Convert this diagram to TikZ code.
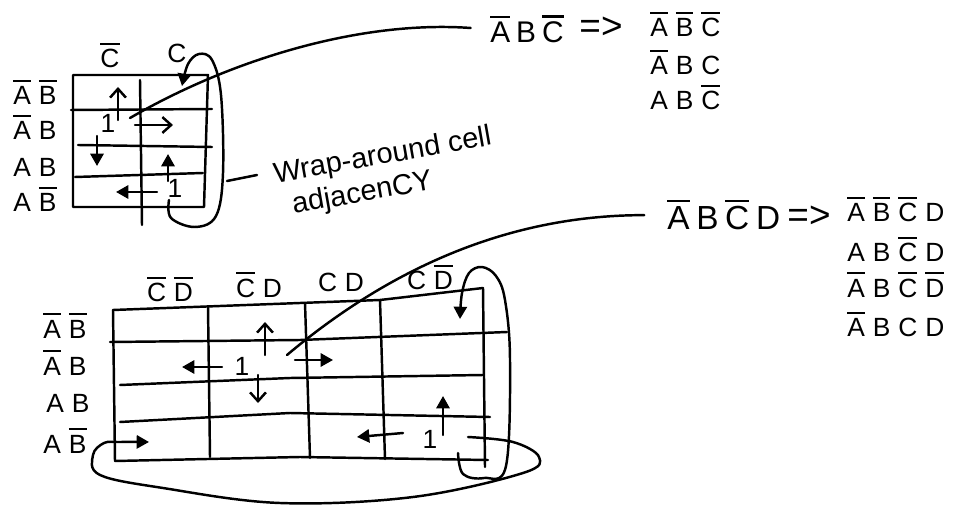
\documentclass[tikz,border=0pt]{standalone}
\usepackage{fontspec}
\setmainfont{Liberation Sans}
\usetikzlibrary{arrows.meta}

% letter with a bar over it (complemented variable)
\newcommand\ov[1]{{\setbox0\hbox{#1}\rlap{\raisebox{\dimexpr\ht0+2.6pt\relax}{\rule{\wd0}{1.2pt}}}\box0}}
% gap between the letters of a product term
\newcommand\gap{\hspace{0.3em}}

\tikzset{
  ink/.style={line width=1.4pt, line cap=round, line join=round},
  lbl/.style={font=\fontsize{15}{17}\selectfont, inner sep=0pt, anchor=base},
  lblw/.style={lbl, anchor=base west},
  big/.style={font=\fontsize{17}{19}\selectfont, inner sep=0pt, anchor=base west},
  imp/.style={font=\fontsize{21}{23}\selectfont, inner sep=0pt},
  note/.style={font=\fontsize{16.5}{19}\selectfont, inner sep=0pt, align=left, anchor=base west},
  stick/.style={ink, -{Straight Barb[length=5pt,width=9pt]}},
  solid/.style={ink, -{Triangle[length=7pt,width=7.5pt]}},
}

\begin{document}
\begin{tikzpicture}[x=0.02cm, y=-0.02cm]
\useasboundingbox (0,0) rectangle (956,506);

% ---------- three-variable map ----------
\draw[ink] (73,75) -- (208,75) -- (204,207) -- (73,207) -- cycle;
\draw[ink] (71,110) -- (212,109);
\draw[ink] (78,145) -- (212,147);
\draw[ink] (75,177) -- (203,173);
\draw[ink] (140,80) -- (142,225);

\node[lbl] (c0) at (110,68) {\ov{C}};
\node[lbl] (c1) at (177,63) {C};
\node[lbl] (r0) at (35,105) {\ov{A}\gap\ov{B}};
\node[lbl] (r1) at (35,140) {\ov{A}\gap B};
\node[lbl] (r2) at (35,177) {A\gap B};
\node[lbl] (r3) at (35,212) {A\gap\ov{B}};

\node[lbl] (one1) at (108,133) {1};
\node[lbl] (one2) at (175,198) {1};

\draw[stick] (118,120) -- (118,87);
\draw[stick] (135,125) -- (173,125);
\draw[solid] (97,136) -- (97,166);
\draw[solid] (168,181) -- (168,154);
\draw[solid] (157,192) -- (116,192);

% wrap-around from the bottom row to the top row
\draw[solid] plot[smooth, tension=0.6] coordinates
  {(169,200) (171,218) (195,227) (216,216) (223,173) (221,95) (212,60) (199,54) (188,64) (182,86)};

\coordinate (s1) at (130,118);
\coordinate (loopR) at (227,181);

% ---------- expansion of the first term ----------
\node[big] (t1) at (490,43) {\ov{A}\hspace{0.2em}B\hspace{0.2em}\ov{C}};
\node[imp] (imp1) at (601,28) {=>};
\node[lblw] (e11) at (650,37) {\ov{A}\gap\ov{B}\gap\ov{C}};
\node[lblw] (e12) at (650,75) {\ov{A}\gap B\gap C};
\node[lblw] (e13) at (650,110) {A\gap B\gap\ov{C}};

\draw[ink, shorten >=11pt] (s1) .. controls (230,60) and (360,20) .. (t1.west);

% ---------- caption (base west sits on the second line) ----------
\node[note, rotate=10] (wrap) at (281,216) {Wrap-around cell\\\hspace*{7.2pt}adjacenCY};
\draw[ink] (loopR) -- (257,175);

% ---------- four-variable map ----------
\draw[ink] (113,310) -- (380,300) -- (483,288);
\draw[ink] (113,310) -- (115,461);
\draw[ink] (115,461) -- (300,457) -- (488,460);
\draw[ink] (483,288) -- (485,467);
\draw[ink] (208,307) -- (210,457);
\draw[ink] (305,303) -- (310,458);
\draw[ink] (380,300) -- (385,459);
\draw[ink] (110,342) -- (300,340) -- (507,332);
\draw[ink] (120,385) -- (290,378) -- (483,375);
\draw[ink] (120,422) -- (290,413) -- (490,417);

\node[lbl] (k0) at (170,302) {\ov{C}\gap\ov{D}};
\node[lbl] (k1) at (259,297) {\ov{C}\gap D};
\node[lbl] (k2) at (341,292) {C\gap D};
\node[lbl] (k3) at (430,290) {C\gap\ov{D}};
\node[lbl] (q0) at (65,338) {\ov{A}\gap\ov{B}};
\node[lbl] (q1) at (65,375) {\ov{A}\gap B};
\node[lbl] (q2) at (68,412) {A\gap B};
\node[lbl] (q3) at (65,453) {A\gap\ov{B}};

\node[lbl] (one3) at (242,375) {1};
\node[lbl] (one4) at (430,448) {1};

\draw[solid] (222,367) -- (182,367);
\draw[stick] (265,355) -- (265,322);
\draw[stick] (258,375) -- (258,403);
\draw[solid] (295,360) -- (333,360);
\draw[solid] (443,435) -- (443,396);
\draw[solid] (403,433) -- (357,437);

% wrap-around, last column to first column ... vertical
\draw[solid] plot[smooth, tension=0.6] coordinates
  {(458,453) (463,474) (484,478) (506,466) (510,360) (505,300) (496,276) (482,267) (469,273) (462,293) (460,319)};
% ... and horizontal
\draw[solid] plot[smooth, tension=0.6] coordinates
  {(468,437) (513,442) (539,457) (523,473) (413,497) (280,503) (163,488) (100,475) (93,455) (104,443) (120,442) (149,442)};

\coordinate (s2) at (287,355);

% ---------- expansion of the second term ----------
\node[big, font=\fontsize{19}{21}\selectfont] (t2) at (667,230) {\ov{A}\hspace{0.2em}B\hspace{0.2em}\ov{C}\hspace{0.2em}D};
\node[imp] (imp2) at (809,217) {=>};
\node[lblw] (e21) at (847,222) {\ov{A}\gap\ov{B}\gap\ov{C}\gap D};
\node[lblw] (e22) at (847,262) {A\gap B\gap\ov{C}\gap D};
\node[lblw] (e23) at (847,297) {\ov{A}\gap B\gap\ov{C}\gap\ov{D}};
\node[lblw] (e24) at (847,337) {\ov{A}\gap B\gap C\gap D};

\draw[ink, shorten >=13pt] (s2) .. controls (400,260) and (520,215) .. (t2.west);
\end{tikzpicture}
\end{document}
